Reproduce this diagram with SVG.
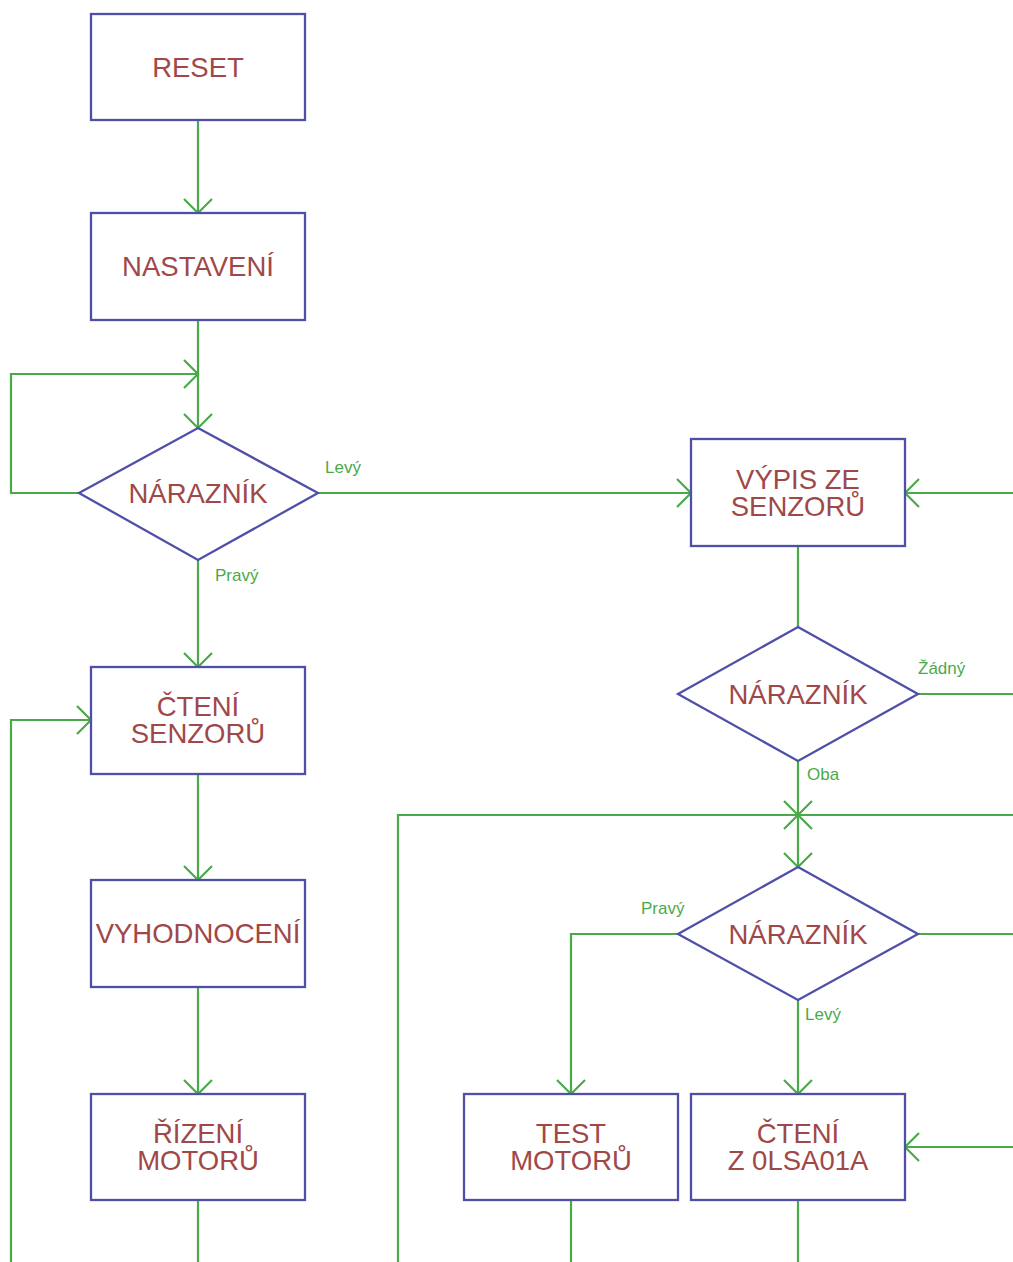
<svg xmlns="http://www.w3.org/2000/svg" width="1013" height="1262" viewBox="0 0 1013 1262">
<style>
.box{fill:#fff;stroke:#4f4fa8;stroke-width:2.3}
.t{font-family:"Liberation Sans",Arial,sans-serif;font-size:27.5px;fill:#a04848;text-anchor:middle}
.c{fill:none;stroke:#4aaa4a;stroke-width:2.2}
.l{font-family:"Liberation Sans",Arial,sans-serif;font-size:17px;fill:#4aaa4a}
</style>
<defs>
<marker id="a" markerUnits="userSpaceOnUse" markerWidth="32" markerHeight="32" refX="16" refY="16" orient="auto" viewBox="0 0 32 32">
<path d="M2,2 L16,16 L2,30" fill="none" stroke="#4aaa4a" stroke-width="2.2"/>
</marker>
</defs>
<rect width="1013" height="1262" fill="#fff"/>
<g id="connectors">
<path class="c" d="M198,120 V213" marker-end="url(#a)"/>
<path class="c" d="M198,320 V428" marker-end="url(#a)"/>
<path class="c" d="M79,493 H11 V374 H198" marker-end="url(#a)"/>
<path class="c" d="M318,493 H691" marker-end="url(#a)"/>
<path class="c" d="M198,560 V667" marker-end="url(#a)"/>
<path class="c" d="M11,1262 V720 H91" marker-end="url(#a)"/>
<path class="c" d="M198,774 V880" marker-end="url(#a)"/>
<path class="c" d="M198,987 V1094" marker-end="url(#a)"/>
<path class="c" d="M198,1200 V1262"/>
<path class="c" d="M1013,493 H905" marker-end="url(#a)"/>
<path class="c" d="M798,546 V627"/>
<path class="c" d="M918,694 H1013"/>
<path class="c" d="M798,761 V867" marker-end="url(#a)"/>
<path class="c" d="M398,1262 V815 H798" marker-end="url(#a)"/>
<path class="c" d="M1013,815 H798" marker-end="url(#a)"/>
<path class="c" d="M678,934 H571 V1094" marker-end="url(#a)"/>
<path class="c" d="M918,934 H1013"/>
<path class="c" d="M798,1000 V1094" marker-end="url(#a)"/>
<path class="c" d="M1013,1147 H905" marker-end="url(#a)"/>
<path class="c" d="M571,1200 V1262"/>
<path class="c" d="M798,1200 V1262"/>
<text class="l" x="325" y="473">Levý</text>
<text class="l" x="215" y="581">Pravý</text>
<text class="l" x="918" y="674">Žádný</text>
<text class="l" x="807" y="780">Oba</text>
<text class="l" x="641" y="914">Pravý</text>
<text class="l" x="805" y="1020">Levý</text>
</g>
<g id="reset"><rect class="box" x="91" y="14" width="214" height="106"/><text class="t" x="198" y="77">RESET</text></g>
<g id="nastaveni"><rect class="box" x="91" y="213" width="214" height="107"/><text class="t" x="198" y="276">NASTAVENÍ</text></g>
<g id="naraznik1"><polygon class="box" points="198,428 318,493 198,560 79,493"/><text class="t" x="198" y="503">NÁRAZNÍK</text></g>
<g id="cteni-senzoru"><rect class="box" x="91" y="667" width="214" height="107"/><text class="t" x="198" y="716">ČTENÍ</text><text class="t" x="198" y="743">SENZORŮ</text></g>
<g id="vyhodnoceni"><rect class="box" x="91" y="880" width="214" height="107"/><text class="t" x="198" y="943">VYHODNOCENÍ</text></g>
<g id="rizeni-motoru"><rect class="box" x="91" y="1094" width="214" height="106"/><text class="t" x="198" y="1143">ŘÍZENÍ</text><text class="t" x="198" y="1170">MOTORŮ</text></g>
<g id="vypis"><rect class="box" x="691" y="439" width="214" height="107"/><text class="t" x="798" y="489">VÝPIS ZE</text><text class="t" x="798" y="516">SENZORŮ</text></g>
<g id="naraznik2"><polygon class="box" points="798,627 918,694 798,761 678,694"/><text class="t" x="798" y="704">NÁRAZNÍK</text></g>
<g id="naraznik3"><polygon class="box" points="798,867 918,934 798,1000 678,934"/><text class="t" x="798" y="944">NÁRAZNÍK</text></g>
<g id="test-motoru"><rect class="box" x="464" y="1094" width="214" height="106"/><text class="t" x="571" y="1143">TEST</text><text class="t" x="571" y="1170">MOTORŮ</text></g>
<g id="cteni-0lsa01a"><rect class="box" x="691" y="1094" width="214" height="106"/><text class="t" x="798" y="1143">ČTENÍ</text><text class="t" x="798" y="1170">Z 0LSA01A</text></g>
</svg>
